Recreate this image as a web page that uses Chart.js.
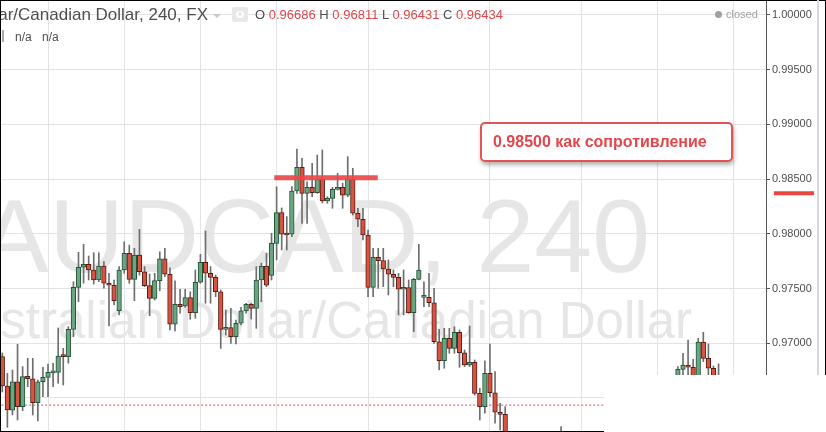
<!DOCTYPE html>
<html>
<head>
<meta charset="utf-8">
<script src="https://cdn.jsdelivr.net/npm/chart.js@4/dist/chart.umd.min.js"></script>
<style>
  html, body { margin: 0; padding: 0; background: #fff; }
  #wrap { position: relative; width: 826px; height: 432px; overflow: hidden; font-family: Arial, "Liberation Sans", sans-serif; }
  #box { position: absolute; left: 0; top: 0; width: 826px; height: 432px; z-index: 1; }
  .wm { position: absolute; white-space: nowrap; color: #e6e6e6; line-height: 1; z-index: 0; }
  .txt { position: absolute; white-space: nowrap; line-height: 1; z-index: 2; }
  .red { color: #e0474c; }
  .line { position: absolute; z-index: 4; }
  #note { position: absolute; left: 480px; top: 122px; width: 253px; height: 40px; box-sizing: border-box;
          border: 2px solid #e25353; border-radius: 5px; background: #fff; z-index: 2;
          box-shadow: 1px 3px 4px rgba(0,0,0,0.3);
          color: #e4464b; font-weight: bold; font-size: 16px; line-height: 36px; padding-left: 11px; white-space: nowrap; }
</style>
</head>
<body>
<div id="wrap">
  <div class="wm" style="right:176px; top:184px; font-size:104px;">AUDCAD, 240</div>
  <div class="wm" style="right:134px; top:295px; font-size:51px;">Australian Dollar/Canadian Dollar</div>

  <div id="box"><canvas id="myChart"></canvas></div>

  <div class="txt" style="right:618px; top:6px; font-size:17px; color:#4e4e4e;">Australian Dollar/Canadian Dollar, 240, FX</div>
  <div class="txt" style="left:213px; top:14px; width:0; height:0; border-left:4px solid transparent; border-right:4px solid transparent; border-top:4px solid #c8c8c8;"></div>
  <div class="txt" style="left:232px; top:7px; width:16px; height:15px; background:#e8e8e8; border-radius:2px;">
    <div style="position:absolute; left:4px; top:4px; width:8px; height:7px; border-radius:50%; background:#fff;"></div>
    <div style="position:absolute; left:6px; top:5px; width:4px; height:4px; border-radius:50%; background:#e8e8e8;"></div>
  </div>
  <div class="txt" style="left:255px; top:8px; font-size:13px; color:#4e4e4e;">O <span class="red">0.96686</span> H <span class="red">0.96811</span> L <span class="red">0.96431</span> C <span class="red">0.96434</span></div>
  <div class="txt" style="left:715px; top:11px; width:7px; height:7px; border-radius:50%; background:#a0a0a0;"></div>
  <div class="txt" style="left:726px; top:9px; font-size:11px; color:#a0a0a0;">closed</div>
  <div class="txt" style="left:2px; top:30px; width:2px; height:12px; background:#a8a8a8;"></div>
  <div class="txt" style="left:15px; top:31px; font-size:12px; color:#4e4e4e;">n/a</div>
  <div class="txt" style="left:42px; top:31px; font-size:12px; color:#4e4e4e;">n/a</div>

  <div id="note">0.98500 как сопротивление</div>

  <div class="line" style="left:604px; top:375px; width:222px; height:57px; background:#fff;"></div>
  <div class="line" style="left:0; top:0; width:826px; height:1px; background:#000;"></div>
  <div class="line" style="left:0; top:0; width:1px; height:432px; background:#000;"></div>
  <div class="line" style="left:0; top:431px; width:604px; height:1px; background:#000;"></div>
  <div class="line" style="left:817px; top:0; width:2px; height:375px; background:#d6d6de;"></div>
  <div class="line" style="left:825px; top:0; width:1px; height:375px; background:#000;"></div>
</div>

<script>
// AUDCAD 240 min candles, index = bar number from the left edge (null = off screen)
var opens = [
  0.96877, 0.96609, 0.96387, 0.96648, 0.96420, 0.96697, 0.96675, 0.96456, 0.96648, 0.96688,
  0.96729, 0.96734, 0.96883, 0.96877, 0.97127, 0.97511, 0.97694, 0.97722, 0.97669, 0.97578,
  0.97706, 0.97548, 0.97530, 0.97298, 0.97669, 0.97822, 0.97584, 0.97806, 0.97653, 0.97526,
  0.97410, 0.97572, 0.97772, 0.97630, 0.97173, 0.97356, 0.97340, 0.97416, 0.97279, 0.97557,
  0.97740, 0.97639, 0.97602, 0.97470, 0.97127, 0.97142, 0.97060, 0.97182, 0.97295, 0.97356,
  0.97319, 0.97578, 0.97706, 0.97620, 0.97913, 0.98193, 0.97996, 0.97996, 0.98391, 0.98608,
  0.98370, 0.98425, 0.98375, 0.98498, 0.98300, 0.98324, 0.98406, 0.98425, 0.98354, 0.98498,
  0.98188, 0.98133, 0.97989, 0.97511, 0.97785, 0.97755, 0.97678, 0.97630, 0.97602, 0.97493,
  0.97508, 0.97279, 0.97584, 0.97419, 0.97419, 0.97370, 0.97013, 0.96841, 0.97045, 0.96953,
  0.97100, 0.96913, 0.96801, 0.96826, 0.96542, 0.96420, 0.96725, 0.96547, 0.96369, 0.96350,
  null, null, null, null, null, null, null, null, null, null,
  0.96110, null, null, null, null, null, null, null, null, null,
  null, null, null, null, null, null, null, null, null, null,
  null, null, null, 0.96618, 0.96761, 0.96799, 0.96780, 0.96646, 0.97011, 0.96862,
  0.96771, 0.96686
];
var highs = [
  0.96911, 0.96725, 0.96755, 0.96990, 0.96786, 0.96862, 0.96862, 0.96664, 0.96780, 0.96810,
  0.96817, 0.97139, 0.96953, 0.97151, 0.97562, 0.97831, 0.97904, 0.97797, 0.97827, 0.97827,
  0.97745, 0.97639, 0.97578, 0.97700, 0.97927, 0.97897, 0.97867, 0.98041, 0.97700, 0.97633,
  0.97639, 0.97836, 0.97867, 0.97688, 0.97569, 0.97493, 0.97493, 0.97470, 0.97669, 0.97813,
  0.98026, 0.97700, 0.97623, 0.97486, 0.97304, 0.97319, 0.97212, 0.97328, 0.97365, 0.97365,
  0.97700, 0.97731, 0.97822, 0.98005, 0.98430, 0.98236, 0.98157, 0.98431, 0.98775, 0.98690,
  0.98476, 0.98645, 0.98720, 0.98766, 0.98339, 0.98425, 0.98553, 0.98462, 0.98705, 0.98599,
  0.98233, 0.98233, 0.98035, 0.97867, 0.97867, 0.97867, 0.97761, 0.97669, 0.97639, 0.97669,
  0.97578, 0.97593, 0.97904, 0.97562, 0.97639, 0.97502, 0.97127, 0.97136, 0.97136, 0.97151,
  0.97121, 0.96938, 0.97157, 0.96847, 0.96588, 0.96838, 0.96993, 0.96740, 0.96451, 0.96420,
  null, null, null, null, null, null, null, null, null, null,
  0.96237, null, null, null, null, null, null, null, null, null,
  null, null, null, null, null, null, null, null, null, null,
  null, null, null, 0.96786, 0.96908, 0.97029, 0.96853, 0.97045, 0.97100, 0.96993,
  0.96792, 0.96811
];
var lows = [
  0.96554, 0.96231, 0.96344, 0.96298, 0.96384, 0.96603, 0.96344, 0.96289, 0.96511, 0.96511,
  0.96603, 0.96634, 0.96618, 0.96817, 0.97060, 0.97379, 0.97548, 0.97578, 0.97541, 0.97562,
  0.97502, 0.97157, 0.97349, 0.97258, 0.97639, 0.97548, 0.97389, 0.97623, 0.97517, 0.97252,
  0.97395, 0.97480, 0.97608, 0.97121, 0.97112, 0.97274, 0.97328, 0.97219, 0.97228, 0.97548,
  0.97365, 0.97365, 0.97425, 0.96953, 0.97075, 0.96999, 0.96993, 0.97166, 0.97274, 0.97221,
  0.97136, 0.97379, 0.97517, 0.97578, 0.97761, 0.97852, 0.97852, 0.97974, 0.98370, 0.98096,
  0.98096, 0.98339, 0.98370, 0.98282, 0.98279, 0.98233, 0.98400, 0.98233, 0.98339, 0.98172,
  0.98065, 0.97943, 0.97425, 0.97425, 0.97502, 0.97517, 0.97441, 0.97517, 0.97258, 0.97258,
  0.97274, 0.97105, 0.97578, 0.97334, 0.97334, 0.96999, 0.96755, 0.96771, 0.96908, 0.96908,
  0.96780, 0.96786, 0.96786, 0.96526, 0.96298, 0.96360, 0.96511, 0.96268, 0.96207, 0.96024,
  null, null, null, null, null, null, null, null, null, null,
  0.96020, null, null, null, null, null, null, null, null, null,
  null, null, null, null, null, null, null, null, null, null,
  null, null, null, 0.96572, 0.96709, 0.96709, 0.96591, 0.96618, 0.96831, 0.96709,
  0.96664, 0.96431
];
var closes = [
  0.96609, 0.96390, 0.96648, 0.96420, 0.96694, 0.96675, 0.96456, 0.96648, 0.96688, 0.96734,
  0.96734, 0.96883, 0.96878, 0.97127, 0.97511, 0.97694, 0.97722, 0.97669, 0.97578, 0.97706,
  0.97548, 0.97530, 0.97389, 0.97669, 0.97822, 0.97584, 0.97806, 0.97653, 0.97526, 0.97410,
  0.97572, 0.97772, 0.97630, 0.97173, 0.97356, 0.97334, 0.97416, 0.97279, 0.97557, 0.97740,
  0.97639, 0.97602, 0.97470, 0.97127, 0.97142, 0.97060, 0.97182, 0.97295, 0.97356, 0.97319,
  0.97578, 0.97706, 0.97530, 0.97913, 0.98193, 0.97996, 0.97989, 0.98391, 0.98608, 0.98370,
  0.98425, 0.98375, 0.98498, 0.98300, 0.98324, 0.98406, 0.98425, 0.98354, 0.98498, 0.98188,
  0.98133, 0.97989, 0.97511, 0.97785, 0.97755, 0.97678, 0.97630, 0.97602, 0.97493, 0.97508,
  0.97279, 0.97584, 0.97669, 0.97422, 0.97370, 0.97013, 0.96841, 0.97045, 0.96953, 0.97100,
  0.96913, 0.96801, 0.96826, 0.96542, 0.96420, 0.96725, 0.96547, 0.96369, 0.96350, 0.96115,
  null, null, null, null, null, null, null, null, null, null,
  0.96090, null, null, null, null, null, null, null, null, null,
  null, null, null, null, null, null, null, null, null, null,
  null, null, null, 0.96761, 0.96799, 0.96780, 0.96646, 0.97011, 0.96862, 0.96771,
  0.96686, 0.96434
];

var yTicks = [0.965, 0.970, 0.975, 0.980, 0.985, 0.990, 0.995, 1.000];
// bars where the time grid lines fall
var timeGridBars = [9, 24, 39, 54, 72, 96, 114, 129, 144];

var lastClose = 0.96434;
var resistancePrice = 0.98513;
var resistanceBars = [53.55, 73.9];
var axisMarkPrice = 0.98370;
var axisMarkBars = [151.9, 159.8];

var upFill = "#6ba583", upLine = "#225437";
var downFill = "#d75442", downLine = "#5b1a13";

var bodies = [];
var wicks = [];
opens.forEach(function (o, i) {
  if (o === null) return;
  bodies.push({ x: i, y: [o, closes[i]], up: closes[i] >= o });
  wicks.push({ x: i, y: [lows[i], highs[i]] });
});

Chart.defaults.font.family = 'Arial, "Liberation Sans", sans-serif';

var ctx = document.getElementById("myChart").getContext("2d");
var chart = new Chart(ctx, {
  type: "bar",
  data: {
    datasets: [
      {
        type: "line",
        data: [{ x: resistanceBars[0], y: resistancePrice }, { x: resistanceBars[1], y: resistancePrice }],
        borderColor: "rgba(236,72,72,0.92)",
        borderWidth: 5,
        borderCapStyle: "butt",
        pointRadius: 0,
        order: 0,
      },
      {
        type: "line",
        data: [{ x: axisMarkBars[0], y: axisMarkPrice }, { x: axisMarkBars[1], y: axisMarkPrice }],
        borderColor: "#e8463f",
        borderWidth: 4,
        borderCapStyle: "butt",
        pointRadius: 0,
        clip: false,
        order: 0,
      },
      {
        data: bodies,
        grouped: false,
        barThickness: 4.6,
        minBarLength: 2,
        borderWidth: 1,
        borderSkipped: false,
        backgroundColor: function (c) { return c.raw && c.raw.up ? upFill : downFill; },
        borderColor: function (c) { return c.raw && c.raw.up ? upLine : downLine; },
        order: 1,
      },
      {
        data: wicks,
        grouped: false,
        barThickness: 1,
        borderWidth: 0,
        backgroundColor: "#6e6e6e",
        order: 2,
      },
      {
        type: "line",
        data: [{ x: -1, y: lastClose }, { x: 152, y: lastClose }],
        borderColor: "#d9534f",
        borderWidth: 1,
        borderDash: [2, 2],
        pointRadius: 0,
        order: 3,
      },
    ],
  },
  options: {
    responsive: true,
    maintainAspectRatio: false,
    animation: false,
    events: [],
    layout: { padding: 0, autoPadding: false },
    plugins: { legend: { display: false }, tooltip: { enabled: false } },
    scales: {
      x: {
        type: "linear",
        min: -0.453,
        max: 150.34,
        offset: false,
        afterBuildTicks: function (s) { s.ticks = timeGridBars.map(function (v) { return { value: v }; }); },
        afterFit: function (s) { s.height = 0; },
        grid: { color: "#e3e3e3", drawTicks: false, offset: false },
        border: { display: false },
        ticks: { display: false },
      },
      y: {
        position: "right",
        min: 0.961883,
        max: 1.001371,
        afterBuildTicks: function (s) { s.ticks = yTicks.map(function (v) { return { value: v }; }); },
        afterFit: function (s) { s.width = 60; s.paddingTop = 0; s.paddingBottom = 0; },
        grid: { color: "#e3e3e3", tickLength: 4, tickColor: "#555" },
        border: { display: true, color: "#555" },
        ticks: {
          color: "#4e4e4e",
          padding: 2,
          font: { size: 11 },
          callback: function (v) { return Number(v).toFixed(5); },
        },
      },
    },
  },
});
</script>
</body>
</html>
